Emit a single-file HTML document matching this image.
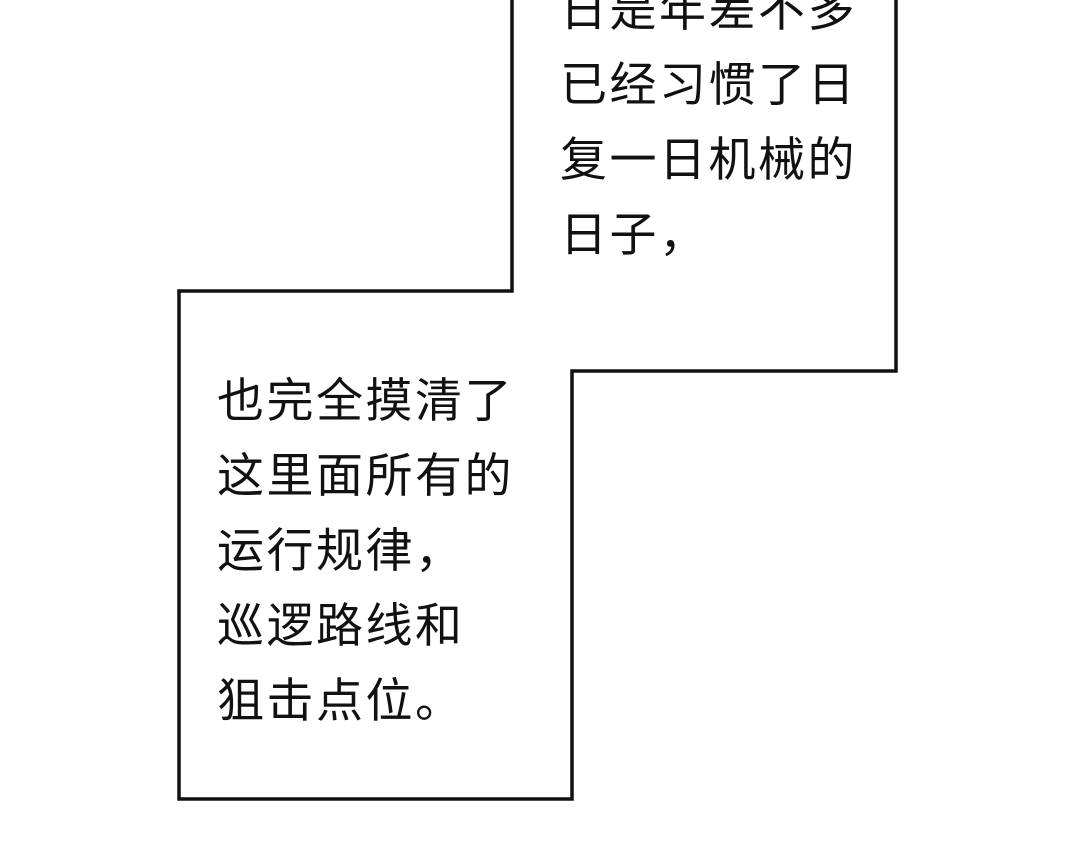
<!DOCTYPE html>
<html><head><meta charset="utf-8"><style>
html,body{margin:0;padding:0;background:#fff;width:1080px;height:844px;overflow:hidden;position:relative}
.t{position:absolute;font-family:"Liberation Sans","Noto Sans CJK SC",sans-serif;font-size:47px;line-height:75px;color:#111;white-space:nowrap;letter-spacing:2.5px;font-weight:400}
</style></head><body>
<svg width="1080" height="844" style="position:absolute;left:0;top:0">
<polygon points="512,-5 512,291 179,291 179,799 572,799 572,371 896,371 896,-5" fill="#fff" stroke="#111" stroke-width="3.5"/>
</svg>
<div class="t" style="left:560px;top:-28px">日是年差不多<br>已经习惯了日<br>复一日机械的<br>日子，</div>
<div class="t" style="left:217px;top:363px">也完全摸清了<br>这里面所有的<br>运行规律，<br>巡逻路线和<br>狙击点位。</div>
</body></html>
